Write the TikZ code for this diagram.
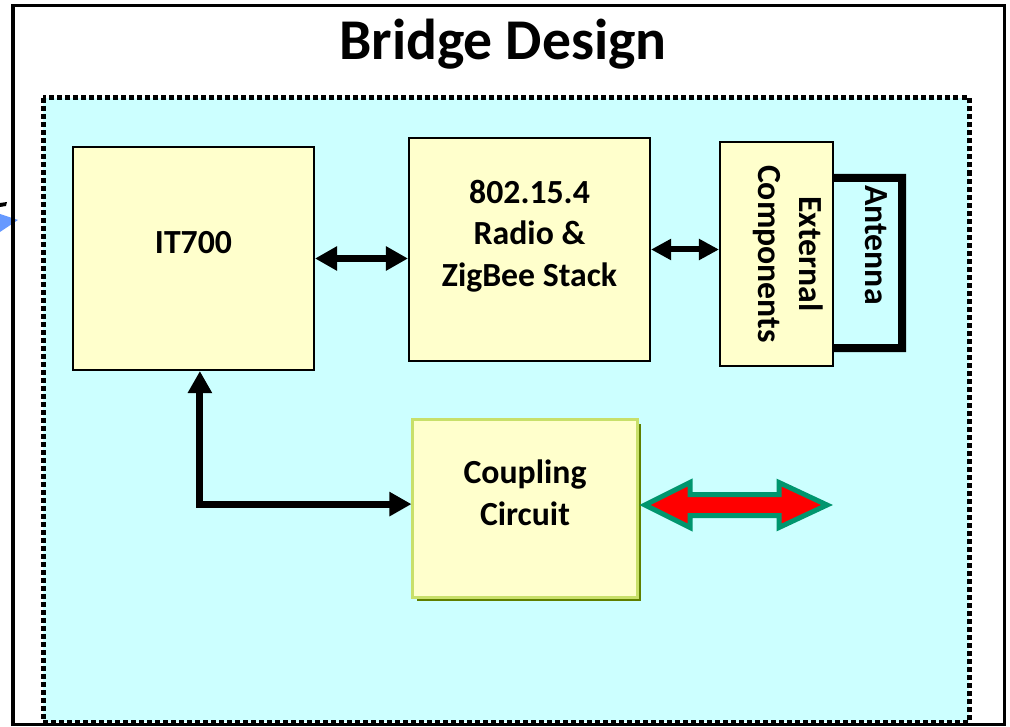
\documentclass[tikz,border=0pt]{standalone}
\usepackage{fontspec}
\setmainfont{Carlito}
\usetikzlibrary{arrows.meta}
\definecolor{panelcyan}{HTML}{CCFFFF}
\definecolor{boxyellow}{HTML}{FFFFCC}
\definecolor{rimgreen}{HTML}{C8E06A}
\definecolor{shadeolive}{HTML}{5F7F00}
\definecolor{feedteal}{HTML}{00966E}
\definecolor{feedred}{HTML}{FF0000}
\definecolor{stubblue}{HTML}{6699FF}
\tikzset{
  blockbox/.style={draw=black, line width=0.05cm, fill=boxyellow, inner sep=0pt},
  blocktext/.style={font=\fontsize{24}{29.5}\selectfont\bfseries, align=center, inner sep=0pt},
  linkarrow/.style={line width=0.175cm, {Triangle[length=0.55cm,width=0.575cm]}-{Triangle[length=0.55cm,width=0.575cm]}}
}
\begin{document}
\begin{tikzpicture}[x=0.025cm, y=-0.025cm]
	%%%%% START %%%%%
	\useasboundingbox (0,0) rectangle (1010,727);
	
	\fill[stubblue] (0,214) -- (18,220) -- (0,232) -- cycle;
	\fill[black] (0,203) -- (7,202) -- (6,206) -- (0,207) -- cycle;
	\draw[line width=0.075cm] (13,6) rectangle (1004,724);
	
	\node[anchor=base, inner sep=0pt, font=\fontsize{41}{49}\selectfont\bfseries] (title) at (503,60) {Bridge Design};
	
	\fill[panelcyan] (43,98) rectangle (969,722);
	\draw[line width=0.125cm, dash pattern=on 0.125cm off 0.075cm] (43,98) rectangle (969,722);
	
	\node[blockbox, minimum width=6.025cm, minimum height=5.575cm] (it700) at (193.5,258.5) {};
	\node[blocktext] (it700text) at (193.5,243) {IT700};
	
	\node[blockbox, minimum width=6.025cm, minimum height=5.575cm] (radio) at (529.5,249.5) {};
	\node[blocktext] (radiotext) at (529.5,236) {802.15.4\\Radio \&\\ZigBee Stack};
	
	\node[blockbox, minimum width=2.825cm, minimum height=5.6cm] (ext) at (776.5,254) {};
	\node[blocktext, rotate=-90] (exttext) at (788,254) {External\\Components};
	
	\draw[line width=0.2cm] ([yshift=1.9cm]ext.east) -| (902,348) -- ([yshift=-2.35cm]ext.east);
	\node[blocktext, rotate=-90] (antenna) at (876,245) {Antenna};
	
	\fill[shadeolive] (417,424) rectangle (641,601);
	\node[draw=rimgreen, line width=0.075cm, fill=boxyellow, minimum width=5.6cm, minimum height=4.425cm] (coupling) at (525,508.5) {};
	\node[blocktext] (couplingtext) at (525,493) {Coupling\\Circuit};
	
	\draw[linkarrow] (it700.east) -- (it700.east -| radio.west);
	\draw[line width=0.15cm, {Triangle[length=0.5cm,width=0.5cm]}-{Triangle[length=0.5cm,width=0.5cm]}] (radio.east) -- (radio.east -| ext.west);
	\draw[linkarrow] ([xshift=0.16cm]it700.south) |- ([yshift=0.11cm]coupling.west);
	
	\draw[line width=0.125cm, draw=feedteal, fill=feedred, line join=miter]
	  (645,505) -- (690,482.5) -- (690,494.5) -- (779,494.5) -- (779,482.5) -- (827,505)
	  -- (779,527.5) -- (779,515.5) -- (690,515.5) -- (690,527.5) -- cycle;
	
	%%%%% END %%%%%
\end{tikzpicture}
\end{document}
